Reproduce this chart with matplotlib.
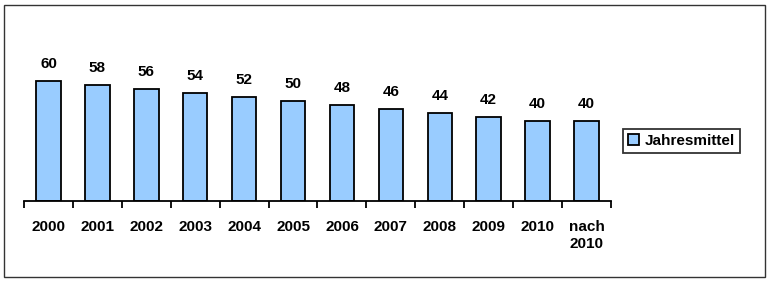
import numpy as np
import matplotlib.pyplot as plt
from matplotlib.patches import Rectangle

# Data
categories = ['2000', '2001', '2002', '2003', '2004', '2005', '2006',
              '2007', '2008', '2009', '2010', 'nach\n2010']
values = [60, 58, 56, 54, 52, 50, 48, 46, 44, 42, 40, 40]
series_name = 'Jahresmittel'

plt.rcParams['font.family'] = ['Liberation Sans', 'DejaVu Sans']

fig = plt.figure(figsize=(7.7, 2.83), dpi=100)
ax = fig.add_axes([24 / 770, 82 / 283, 587 / 770, 180 / 283])

x = np.arange(len(categories))
bars = ax.bar(x, values, width=0.5, color='#99CCFF', edgecolor='black',
              linewidth=1.3, label=series_name)

for xi, v in zip(x, values):
    ax.text(xi, v + 5, str(v), ha='center', va='bottom',
            fontsize=11, fontweight='bold')

ax.set_xlim(-0.5, len(categories) - 0.5)
ax.set_ylim(0, 90)

for side in ['top', 'right', 'left']:
    ax.spines[side].set_visible(False)
ax.spines['bottom'].set_linewidth(1.3)
ax.set_yticks([])

# labels in the middle, tick marks between categories
ax.set_xticks(x)
ax.set_xticklabels(categories, fontsize=11, fontweight='bold', linespacing=1.3)
ax.tick_params(axis='x', which='major', length=0, pad=13.5)
ax.set_xticks(np.arange(len(categories) + 1) - 0.5, minor=True)
ax.tick_params(axis='x', which='minor', length=5, width=1.3, direction='out')

leg = ax.legend(loc='center left', bbox_to_anchor=(1.008, 0.333),
                frameon=True, fancybox=False, edgecolor='black',
                handlelength=0.7, handleheight=0.7, handletextpad=0.4,
                borderpad=0.3, prop={'size': 11, 'weight': 'bold'})
leg.get_frame().set_linewidth(1.3)

# outer frame around the whole picture
fig.patches.append(Rectangle((4 / 770, 6 / 283), 761 / 770, 272 / 283,
                             transform=fig.transFigure, fill=False,
                             edgecolor='#333333', linewidth=1))

plt.savefig('out.png', dpi=100)
